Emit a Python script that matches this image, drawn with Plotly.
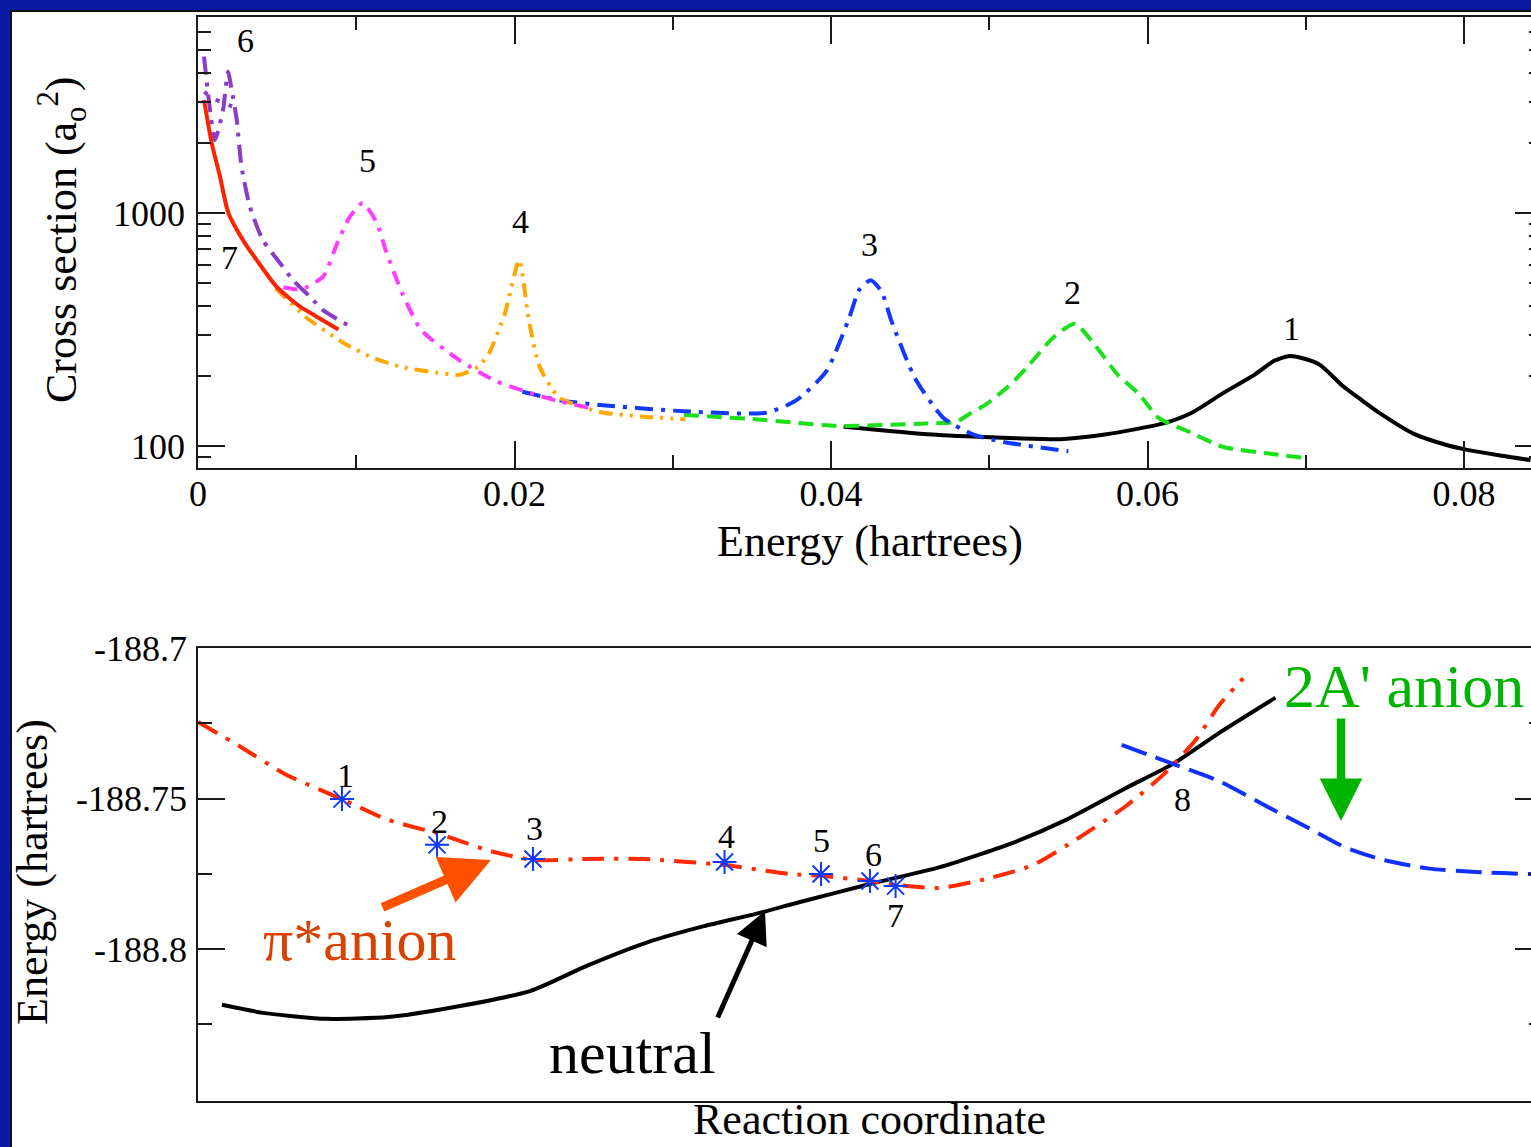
import math
import plotly.graph_objects as go

W, H = 1531, 1147
SERIF = "Liberation Serif, Times New Roman, serif"

# ---------------- top panel: cross sections ----------------
E1 = [0.0408, 0.0464, 0.0517, 0.0545, 0.0573, 0.0610, 0.0628, 0.0648, 0.0668, 0.0680, 0.0689,
      0.0698, 0.0709, 0.0723, 0.0735, 0.0747, 0.0768, 0.0789, 0.0800, 0.0821, 0.0842]
S1 = [121, 112, 108, 107, 112, 125, 139, 169, 203, 232, 243,
      238, 223, 182, 158, 138, 113, 101, 97, 91.5, 87]

E2 = [0.0307, 0.0354, 0.0404, 0.0460, 0.0479, 0.0488, 0.0498, 0.0512, 0.0524, 0.0540, 0.0554,
      0.0567, 0.0581, 0.0595, 0.0607, 0.0625, 0.0648, 0.0675, 0.0699]
S2 = [136, 130, 122, 125, 127, 138, 151, 180, 218, 290, 335,
      270, 203, 166, 132, 116, 99, 93, 89]

E3 = [0.0205, 0.0229, 0.0254, 0.0307, 0.0359, 0.0378, 0.0397, 0.0411, 0.0418, 0.0425, 0.0432,
      0.0438, 0.0453, 0.0471, 0.0490, 0.0509, 0.0550]
S3 = [171, 157, 150, 141, 139, 157, 209, 347, 470, 515, 460,
      347, 196, 132, 112, 104, 95]

E4 = [0.0049, 0.0068, 0.0092, 0.0110, 0.0129, 0.0150, 0.0165, 0.0177, 0.0184, 0.0194, 0.0203,
      0.0209, 0.0216, 0.0228, 0.0254, 0.0280, 0.0308]
S4 = [476, 358, 277, 240, 218, 207, 202, 219, 251, 372, 628,
      348, 218, 162, 140, 134, 130]

E5 = [0.0054, 0.0065, 0.0079, 0.0088, 0.0096, 0.0104, 0.0113, 0.0119, 0.0129, 0.0141, 0.0165,
      0.0189, 0.0226, 0.0247]
S5 = [480, 470, 533, 743, 964, 1104, 906, 680, 454, 315, 234,
      189, 157, 146]

E6 = [0.00038, 0.00076, 0.00107, 0.00158, 0.0019, 0.00213, 0.00245, 0.00275, 0.00328, 0.0041,
      0.00518, 0.0060, 0.00708, 0.0079, 0.0098]
S6 = [4690, 2767, 2055, 2767, 4036, 3373, 2506, 1580, 1064, 765,
      610, 515, 437, 383, 321]
E6B = [0.0004, 0.0008, 0.0017, 0.0023]
S6B = [3315, 3150, 2940, 2850]

E7 = [0.00038, 0.00087, 0.00139, 0.00192, 0.00297, 0.00371, 0.00496, 0.00645, 0.0075, 0.00887]
S7 = [3055, 1991, 1432, 1000, 741, 628, 483, 396, 359, 316]

TOP_LABELS = ["1", "2", "3", "4", "5", "6", "7"]
TOP_LABEL_E = [0.06913, 0.05529, 0.04246, 0.02041, 0.01068, 0.00303, 0.00202]
TOP_LABEL_S = [320, 458, 729, 915, 1688, 5520, 647]

X_TICKS = [0, 0.02, 0.04, 0.06, 0.08]
X_TICKTEXT = ["0", "0.02", "0.04", "0.06", "0.08"]
X_MINOR = [0.01, 0.03, 0.05, 0.07]
Y_TICKS = [100, 1000]
Y_TICKTEXT = ["100", "1000"]
Y_MINOR = [90, 200, 300, 400, 500, 600, 700, 800, 900, 2000, 3000, 4000, 5000, 6000]

# ---------------- bottom panel: potential curves ----------------
RC_ANION = [0.0, 0.315, 0.658, 1.079, 1.424, 1.806, 2.189, 2.513, 2.916, 3.338, 3.950, 4.449,
            4.656, 5.041, 5.319, 5.566, 5.915, 6.264, 6.617, 6.962, 7.244, 7.487, 7.664, 7.840]
EN_ANION = [-188.7246, -188.7327, -188.7420, -188.7502, -188.7571, -188.7617, -188.7674,
            -188.7704, -188.7701, -188.7701, -188.7721, -188.7751, -188.7756, -188.7774,
            -188.7791, -188.7797, -188.7767, -188.7721, -188.7628, -188.7525, -188.7420,
            -188.7304, -188.7188, -188.7101]

RC_NEUTRAL = [0.180, 0.503, 0.964, 1.424, 1.883, 2.495, 2.916, 3.376, 3.796, 4.179, 4.516,
              5.041, 5.566, 6.092, 6.512, 6.962, 7.314, 7.664, 8.083]
EN_NEUTRAL = [-188.8185, -188.8213, -188.8232, -188.8226, -188.8196, -188.8139, -188.8056,
              -188.7977, -188.7924, -188.7884, -188.7844, -188.7784, -188.7728, -188.7651,
              -188.7571, -188.7465, -188.7385, -188.7281, -188.7165]

RC_2A = [6.929, 7.314, 7.664, 8.012, 8.365, 8.608, 8.888, 9.235, 9.587, 10.0, 10.2]
EN_2A = [-188.7322, -188.7385, -188.7443, -188.7525, -188.7606, -188.7663, -188.7704,
         -188.7733, -188.7744, -188.7751, -188.7752]

RC_STAR = [1.080, 1.793, 2.513, 3.950, 4.674, 5.041, 5.233]
EN_STAR = [-188.7502, -188.7654, -188.7701, -188.7711, -188.7751, -188.7774, -188.7791]

PT_LABELS = ["1", "2", "3", "4", "5", "6", "7", "8"]
PT_LABEL_RC = [1.110, 1.815, 2.528, 3.968, 4.681, 5.069, 5.233, 7.382]
PT_LABEL_EN = [-188.7425, -188.7575, -188.7600, -188.7625, -188.7641, -188.7687, -188.7890, -188.7502]

E_TICKS = [-188.8, -188.75, -188.7]
E_TICKTEXT = ["-188.8", "-188.75", "-188.7"]
E_MINOR = [-188.825, -188.775, -188.725]


# ---------------- helpers (pixel -> paper) ----------------
def px(x):
    return x / W


def py(y):
    return 1 - y / H


TOP_X0, TOP_Y0, TOP_Y1 = 198, 17, 468
BOT_Y0, BOT_Y1 = 648, 1101

AXC = "#1a1a1a"

fig = go.Figure()

top_series = [
    (E1, S1, "#000000", "solid"),
    (E2, S2, "#19e019", "15px,8px"),
    (E3, S3, "#1038ff", "18px,8px,4px,8px"),
    (E4, S4, "#ffa800", "14px,7px,3px,7px,3px,7px"),
    (E5, S5, "#ff3cff", "14px,8px,4px,8px"),
    (E6, S6, "#8a3cc8", "18px,8px,4px,8px"),
    (E6B, S6B, "#8a3cc8", "4px,10px"),
    (E7, S7, "#ff2200", "solid"),
]
for ex, sy, col, dash in top_series:
    fig.add_trace(go.Scatter(x=ex, y=sy, mode="lines", xaxis="x", yaxis="y",
                             line=dict(color=col, width=4, dash=dash, shape="spline", smoothing=0.6),
                             showlegend=False, hoverinfo="skip"))

# dummy traces so the right-hand tick axes render
fig.add_trace(go.Scatter(x=[], y=[], xaxis="x", yaxis="y3", showlegend=False, hoverinfo="skip"))
fig.add_trace(go.Scatter(x=[], y=[], xaxis="x2", yaxis="y4", showlegend=False, hoverinfo="skip"))

fig.add_trace(go.Scatter(x=RC_NEUTRAL, y=EN_NEUTRAL, mode="lines", xaxis="x2", yaxis="y2",
                         line=dict(color="#000000", width=4, shape="spline", smoothing=0.6),
                         showlegend=False, hoverinfo="skip"))
fig.add_trace(go.Scatter(x=RC_ANION, y=EN_ANION, mode="lines", xaxis="x2", yaxis="y2",
                         line=dict(color="#ff2a00", width=4, dash="22px,10px,4px,10px",
                                   shape="spline", smoothing=0.6),
                         showlegend=False, hoverinfo="skip"))
fig.add_trace(go.Scatter(x=RC_2A, y=EN_2A, mode="lines", xaxis="x2", yaxis="y2",
                         line=dict(color="#1030ff", width=4, dash="26px,10px",
                                   shape="spline", smoothing=0.6),
                         showlegend=False, hoverinfo="skip"))
fig.add_trace(go.Scatter(x=RC_STAR, y=EN_STAR, mode="markers", xaxis="x2", yaxis="y2",
                         marker=dict(symbol="asterisk-open", size=20, color="#1038ff",
                                     line=dict(color="#1038ff", width=2)),
                         showlegend=False, hoverinfo="skip"))

annotations = []
for t, ex, sy in zip(TOP_LABELS, TOP_LABEL_E, TOP_LABEL_S):
    annotations.append(dict(x=ex, y=math.log10(sy), xref="x", yref="y", text=t, showarrow=False,
                            xanchor="center", yanchor="middle",
                            font=dict(family=SERIF, size=34, color="black")))
for t, rx, ey in zip(PT_LABELS, PT_LABEL_RC, PT_LABEL_EN):
    annotations.append(dict(x=rx, y=ey, xref="x2", yref="y2", text=t, showarrow=False,
                            xanchor="center", yanchor="middle",
                            font=dict(family=SERIF, size=34, color="black")))


def ptext(x, y, text, size, color="black", angle=0):
    return dict(x=px(x), y=py(y), xref="paper", yref="paper", text=text, showarrow=False,
                xanchor="center", yanchor="middle", textangle=angle,
                font=dict(family=SERIF, size=size, color=color))


def parrow(x_tip, y_tip, x_tail, y_tail, color, width, size):
    return dict(x=px(x_tip), y=py(y_tip), xref="paper", yref="paper", text="", showarrow=True,
                ax=x_tail - x_tip, ay=y_tail - y_tip, arrowcolor=color, arrowwidth=width,
                arrowhead=2, arrowsize=size, standoff=0)


annotations += [
    ptext(62, 240, "Cross section (a<sub>o</sub><sup>2</sup>)", 44, angle=-90),
    ptext(870, 541, "Energy (hartrees)", 44),
    ptext(32, 872, "Energy (hartrees)", 44, angle=-90),
    ptext(870, 1119, "Reaction coordinate", 44),
    ptext(360, 940, "π*anion", 60, "#d84200"),
    parrow(491, 860, 381, 908, "#ff5000", 9, 1.1),
    ptext(632, 1053, "neutral", 60),
    parrow(765, 911, 717, 1019, "black", 5, 1.3),
    ptext(1404, 686, "2A' anion", 62, "#00b400"),
    parrow(1341, 821, 1341, 717, "#00b400", 8.5, 1.0),
]

BLUE = "#0a1aa3"
shapes = [
    dict(type="rect", xref="paper", yref="paper", x0=0, x1=1, y0=py(10), y1=1,
         fillcolor=BLUE, line=dict(width=0), layer="above"),
    dict(type="rect", xref="paper", yref="paper", x0=0, x1=px(10), y0=0, y1=1,
         fillcolor=BLUE, line=dict(width=0), layer="above"),
    dict(type="line", xref="paper", yref="paper", x0=px(10), x1=1, y0=py(11), y1=py(11),
         line=dict(color="#111", width=2), layer="above"),
    dict(type="line", xref="paper", yref="paper", x0=px(11), x1=px(11), y0=0, y1=py(10),
         line=dict(color="#111", width=2), layer="above"),
]

x_dom = [px(TOP_X0), 1.0]
x_range_top = [0, (W - TOP_X0) / 15825.0]

common_tickfont = dict(family=SERIF, size=36, color="black")

fig.update_layout(
    width=W, height=H,
    margin=dict(l=0, r=0, t=0, b=0),
    paper_bgcolor="white", plot_bgcolor="white",
    template="none",
    showlegend=False,
    annotations=annotations,
    shapes=shapes,
    xaxis=dict(domain=x_dom, anchor="y", range=x_range_top, showgrid=False, zeroline=False,
               showline=True, linecolor=AXC, linewidth=1.5, mirror="ticks",
               ticks="inside", ticklen=27, tickwidth=1.5, tickcolor=AXC,
               tickvals=X_TICKS, ticktext=X_TICKTEXT, tickfont=common_tickfont,
               ticklabelstandoff=-7,
               minor=dict(tickvals=X_MINOR, ticks="inside", ticklen=13, tickwidth=1.5, tickcolor=AXC)),
    yaxis=dict(domain=[py(TOP_Y1), py(TOP_Y0)], anchor="x", type="log",
               range=[1.9056, 3.8412], showgrid=False, zeroline=False,
               showline=True, linecolor=AXC, linewidth=1.5, mirror=False,
               ticks="inside", ticklen=27, tickwidth=1.5, tickcolor=AXC,
               tickvals=Y_TICKS, ticktext=Y_TICKTEXT, tickfont=common_tickfont,
               ticklabelstandoff=4,
               minor=dict(tickvals=Y_MINOR, ticks="inside", ticklen=13, tickwidth=1.5, tickcolor=AXC)),
    yaxis3=dict(overlaying="y", anchor="x", side="right", type="log", range=[1.9056, 3.8412],
                showgrid=False, zeroline=False, showline=False, showticklabels=False,
                ticks="inside", ticklen=16, tickwidth=1.5, tickcolor=AXC, tickvals=Y_TICKS,
                minor=dict(tickvals=Y_MINOR, ticks="inside", ticklen=2, tickwidth=1.5, tickcolor=AXC)),
    xaxis2=dict(domain=x_dom, anchor="y2", range=[0, 10], showgrid=False, zeroline=False,
                showline=True, linecolor=AXC, linewidth=1.5, mirror=True,
                ticks="", showticklabels=False),
    yaxis2=dict(domain=[py(BOT_Y1), py(BOT_Y0)], anchor="x2", range=[-188.8505, -188.7],
                showgrid=False, zeroline=False, showline=True, linecolor=AXC, linewidth=1.5,
                ticks="inside", ticklen=27, tickwidth=1.5, tickcolor=AXC,
                tickvals=E_TICKS, ticktext=E_TICKTEXT, tickfont=common_tickfont,
                ticklabelstandoff=2,
                minor=dict(tickvals=E_MINOR, ticks="inside", ticklen=14, tickwidth=1.5, tickcolor=AXC)),
    yaxis4=dict(overlaying="y2", anchor="x2", side="right", range=[-188.8505, -188.7],
                showgrid=False, zeroline=False, showline=False, showticklabels=False,
                ticks="inside", ticklen=16, tickwidth=1.5, tickcolor=AXC, tickvals=E_TICKS,
                minor=dict(tickvals=E_MINOR, ticks="inside", ticklen=2, tickwidth=1.5, tickcolor=AXC)),
)

fig.write_html("out.html")
